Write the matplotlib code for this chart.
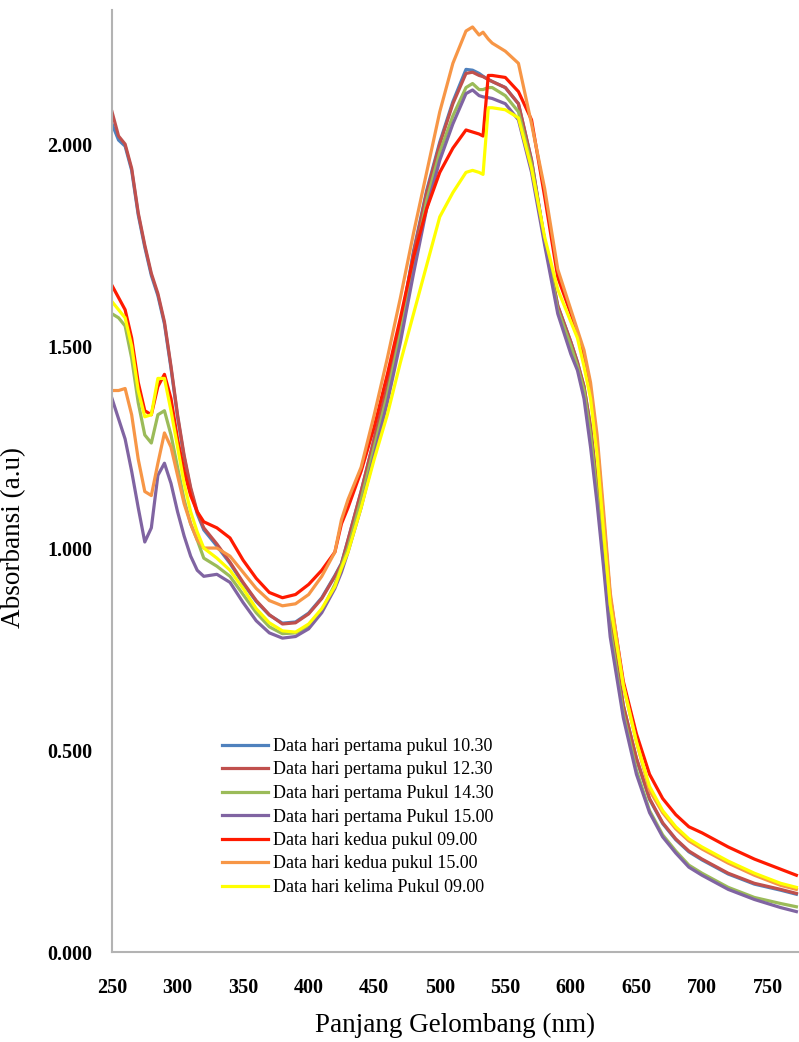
import numpy as np
import matplotlib
matplotlib.use("Agg")
import matplotlib.pyplot as plt

plt.rcParams['font.family'] = ['Liberation Serif', 'DejaVu Serif']

# wavelength grid (nm)
wl = [250, 255, 260, 265, 270, 275, 280, 285, 290, 295, 300, 305, 310, 315, 320,
      330, 340, 350, 360, 370, 380, 390, 400, 410, 420,
      425, 430,
      440, 450, 460, 470, 480, 490, 500, 510, 520,
      525, 530, 533, 537, 540,
      550, 560, 570, 580, 590, 600,
      605, 610, 615, 620, 625, 630,
      640, 650, 660, 670, 680, 690, 700,
      720, 740, 760, 772]

blue = [2.05, 2.01, 1.995, 1.935, 1.825, 1.745, 1.675, 1.625, 1.555, 1.445, 1.325, 1.225, 1.145, 1.085, 1.045,
        1.005, 0.962, 0.912, 0.868, 0.834, 0.814, 0.817, 0.839, 0.877, 0.932,
        0.962, 1.02,
        1.14, 1.27, 1.40, 1.55, 1.735, 1.885, 2.005, 2.105, 2.185,
        2.183, 2.175, 2.168, 2.16, 2.155,
        2.14, 2.10, 1.96, 1.76, 1.60, 1.51,
        1.46, 1.40, 1.30, 1.15, 0.99, 0.82,
        0.61, 0.478, 0.378, 0.318, 0.278, 0.248, 0.228,
        0.193, 0.168, 0.153, 0.143]

brown = [2.08, 2.02, 2.00, 1.94, 1.83, 1.75, 1.68, 1.63, 1.56, 1.45, 1.33, 1.23, 1.15, 1.09, 1.05,
         1.01, 0.965, 0.915, 0.87, 0.835, 0.812, 0.815, 0.837, 0.875, 0.93,
         0.96, 1.02,
         1.14, 1.27, 1.40, 1.55, 1.73, 1.88, 2.00, 2.10, 2.175,
         2.178, 2.17, 2.167, 2.16, 2.155,
         2.14, 2.10, 1.96, 1.76, 1.60, 1.51,
         1.46, 1.40, 1.30, 1.15, 0.99, 0.82,
         0.61, 0.48, 0.38, 0.32, 0.28, 0.25, 0.23,
         0.195, 0.17, 0.155, 0.145]

green = [1.58, 1.57, 1.55, 1.47, 1.36, 1.28, 1.26, 1.33, 1.34, 1.28, 1.20, 1.12, 1.06, 1.02, 0.975,
         0.955, 0.93, 0.885, 0.84, 0.805, 0.788, 0.79, 0.805, 0.845, 0.91,
         0.955, 1.0,
         1.12, 1.25, 1.38, 1.53, 1.70, 1.86, 1.98, 2.07, 2.14,
         2.15, 2.135, 2.135, 2.14, 2.14,
         2.12, 2.08, 1.95, 1.76, 1.59, 1.50,
         1.45, 1.39, 1.28, 1.13, 0.97, 0.80,
         0.59, 0.45, 0.35, 0.29, 0.25, 0.215, 0.195,
         0.16, 0.135, 0.12, 0.112]

purple = [1.37, 1.32, 1.27, 1.19, 1.10, 1.015, 1.05, 1.18, 1.21, 1.16, 1.09, 1.03, 0.98, 0.945, 0.93,
          0.935, 0.915, 0.865, 0.82, 0.79, 0.777, 0.781, 0.80, 0.84, 0.90,
          0.94, 0.99,
          1.10, 1.23, 1.36, 1.51, 1.68, 1.84, 1.96, 2.05, 2.125,
          2.134, 2.12, 2.117, 2.115, 2.113,
          2.10, 2.06, 1.93, 1.75, 1.58, 1.48,
          1.44, 1.37, 1.25, 1.11, 0.95, 0.78,
          0.58, 0.44, 0.345, 0.285, 0.245, 0.21, 0.19,
          0.155, 0.13, 0.11, 0.10]

red = [1.65, 1.62, 1.59, 1.52, 1.41, 1.34, 1.33, 1.40, 1.43, 1.37, 1.27, 1.19, 1.13, 1.09, 1.065,
       1.05, 1.025, 0.97, 0.925, 0.89, 0.877, 0.885, 0.91, 0.945, 0.99,
       1.06, 1.10,
       1.19, 1.30, 1.43, 1.57, 1.72, 1.84, 1.93, 1.99, 2.035,
       2.03, 2.025, 2.02, 2.17, 2.17,
       2.165, 2.13, 2.06, 1.87, 1.67, 1.58,
       1.53, 1.47, 1.39, 1.26, 1.07, 0.88,
       0.67, 0.54, 0.44, 0.38, 0.34, 0.31, 0.295,
       0.26, 0.23, 0.205, 0.19]

orange = [1.39, 1.39, 1.395, 1.33, 1.22, 1.14, 1.13, 1.21, 1.285, 1.25, 1.18, 1.11, 1.06, 1.02, 1.0,
          1.0, 0.98, 0.94, 0.90, 0.87, 0.857, 0.862, 0.885, 0.93, 0.99,
          1.07, 1.12,
          1.20, 1.33, 1.47, 1.62, 1.78, 1.93, 2.08, 2.20, 2.28,
          2.29, 2.27, 2.277, 2.26, 2.25,
          2.23, 2.20, 2.05, 1.89, 1.69, 1.59,
          1.54, 1.49, 1.41, 1.28, 1.09, 0.89,
          0.66, 0.52, 0.40, 0.345, 0.305, 0.275, 0.255,
          0.22, 0.19, 0.165, 0.155]

yellow = [1.61, 1.59, 1.57, 1.50, 1.39, 1.325, 1.33, 1.42, 1.42, 1.34, 1.25, 1.16, 1.09, 1.04, 1.0,
          0.975, 0.945, 0.90, 0.85, 0.815, 0.795, 0.792, 0.812, 0.85, 0.905,
          0.95, 0.99,
          1.10, 1.22, 1.33, 1.46, 1.58, 1.70, 1.82, 1.88, 1.93,
          1.935, 1.93, 1.925, 2.09, 2.09,
          2.085, 2.065, 1.94, 1.77, 1.64, 1.56,
          1.52, 1.45, 1.37, 1.23, 1.04, 0.86,
          0.66, 0.52, 0.41, 0.35, 0.31, 0.28, 0.26,
          0.225, 0.195, 0.17, 0.16]

labels = ["Data hari pertama pukul 10.30",
          "Data hari pertama pukul 12.30",
          "Data hari pertama Pukul 14.30",
          "Data hari pertama Pukul 15.00",
          "Data hari kedua pukul 09.00",
          "Data hari kedua pukul 15.00",
          "Data hari kelima Pukul 09.00"]
series = [blue, brown, green, purple, red, orange, yellow]
colors = ["#4F81BD", "#C0504D", "#9BBB59", "#8064A2", "#FF1A00", "#F79646", "#FFFF00"]

fig = plt.figure(figsize=(7.99, 10.42), dpi=100)
ax = fig.add_axes([112 / 799, 1 - 952 / 1042, 1 - 112 / 799, 942 / 1042])

for s, c, lab in zip(series, colors, labels):
    ax.plot(wl, s, color=c, lw=2.3, label=lab, solid_joinstyle='round')

ax.set_xlim(250, 774)
ax.set_ylim(0, 2.332)
ax.set_xticks(np.arange(250, 751, 50))
ax.set_yticks([0, 0.5, 1.0, 1.5, 2.0])
ax.set_yticklabels(["0.000", "0.500", "1.000", "1.500", "2.000"])
ax.tick_params(length=0, labelsize=14.5)
for t in ax.get_xticklabels() + ax.get_yticklabels():
    t.set_fontweight('bold')
ax.tick_params(axis='x', pad=19)
ax.tick_params(axis='y', pad=14)

for side in ['top', 'right']:
    ax.spines[side].set_visible(False)
for side in ['left', 'bottom']:
    ax.spines[side].set_color('#b3b3b3')
    ax.spines[side].set_linewidth(1.5)

ax.set_xlabel("Panjang Gelombang (nm)", fontsize=19.5)
ax.set_ylabel("Absorbansi (a.u)", fontsize=19.5)
ax.xaxis.set_label_coords(0.5, -0.065)
ax.yaxis.set_label_coords(-0.125, 0.44)

ax.legend(loc='upper left', bbox_to_anchor=(222 / 799, 1 - 738 / 1042),
          bbox_transform=fig.transFigure, frameon=False, fontsize=13,
          handlelength=2.55, handletextpad=0.28, labelspacing=0.36,
          borderpad=0, borderaxespad=0)

fig.savefig("out.png", dpi=100)
